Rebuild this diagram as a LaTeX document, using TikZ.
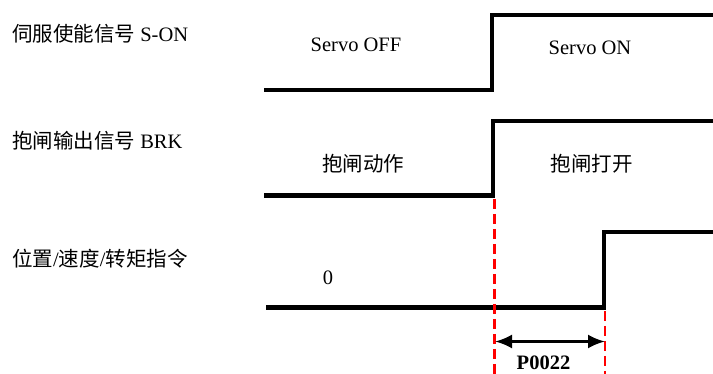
\documentclass[tikz,border=0pt]{standalone}
\usepackage{fontspec}
\setmainfont{Liberation Serif}
\newfontfamily\cjk{Noto Sans CJK SC}
\usetikzlibrary{arrows.meta}
\tikzset{
  wave/.style={line width=4.2pt, line join=miter},
  guide/.style={red, line width=2.6pt, dash pattern=on 10pt off 5pt},
  dim/.style={line width=2.6pt, {Latex[length=17pt,width=14pt]}-{Latex[length=17pt,width=14pt]}},
  txt/.style={inner sep=0pt, anchor=base, font=\fontsize{20.5}{24}\selectfont},
  lbl/.style={txt, anchor=base west},
}
\begin{document}
\begin{tikzpicture}[x=1pt,y=-1pt]
\useasboundingbox (0,0) rectangle (713,374);
% labels
\node[lbl] (l1) at (12,42) {{\cjk 伺服使能信号} S-ON};
\node[lbl] (l2) at (12,148.3) {{\cjk 抱闸输出信号} BRK};
\node[lbl] (l3) at (12,266.5) {{\cjk 位置}/{\cjk 速度}/{\cjk 转矩指令}};
% state texts
\node[txt] (t1) at (356,51.7) {Servo OFF};
\node[txt] (t2) at (590,55) {Servo ON};
\node[txt] (t3) at (363,171.3) {\cjk 抱闸动作};
\node[txt] (t4) at (591.5,171.3) {\cjk 抱闸打开};
\node[txt] (t5) at (328,285) {0};
% waveforms
\coordinate (a0) at (264,90);
\coordinate (a1) at (492,90);
\coordinate (a2) at (492,15);
\coordinate (a3) at (713,15);
\draw[wave] (a0) -- (a1) -- (a2) -- (a3);
\coordinate (b0) at (264,195.5);
\coordinate (b1) at (492.7,195.5);
\coordinate (b2) at (492.7,121);
\coordinate (b3) at (713,121);
\draw[wave] (b0) -- (b1) -- (b2) -- (b3);
\coordinate (c0) at (266,307.5);
\coordinate (c1) at (604,307.5);
\coordinate (c2) at (604,232);
\coordinate (c3) at (713,232);
\draw[wave] (c0) -- (c1) -- (c2) -- (c3);
% guides
\coordinate (g1t) at (494.5,199);
\coordinate (g1b) at (494.5,374);
\coordinate (g2t) at (605,311);
\coordinate (g2b) at (605,374);
\draw[guide] (g1t) -- (g1b);
\draw[guide] (g2t) -- (g2b);
% dimension
\coordinate (d1) at (495,341.5);
\coordinate (d2) at (605,341.5);
\draw[dim] (d1) -- (d2);
\node[txt, font=\fontsize{20.5}{24}\selectfont\bfseries] (p) at (543.5,370) {P0022};
\end{tikzpicture}
\end{document}
